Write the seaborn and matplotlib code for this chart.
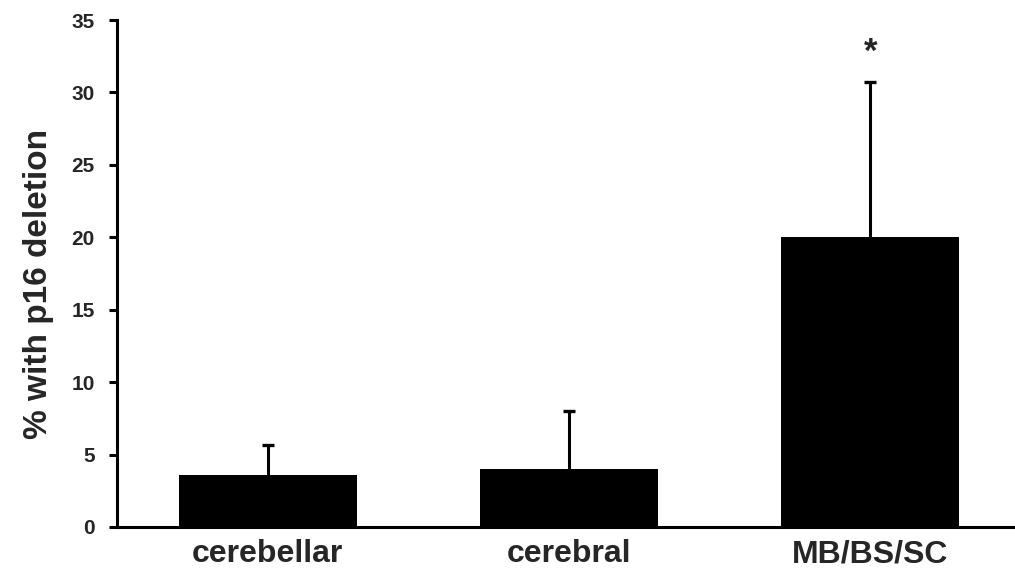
import numpy as np
import pandas as pd
import matplotlib
matplotlib.use('Agg')
import matplotlib.pyplot as plt
import seaborn as sns

sns.set_theme(style="ticks")
plt.rcParams['font.family'] = ['Liberation Sans', 'DejaVu Sans']

# data
regions = ['cerebellar', 'cerebral', 'MB/BS/SC']
pct_deleted = [3.6, 4.0, 20.0]
err_upper = [2.05, 4.0, 10.7]
signif = ['', '', '*']

df = pd.DataFrame({'region': regions, 'pct': pct_deleted})

fig = plt.figure(figsize=(10.15, 5.72), dpi=100)
ax = fig.add_axes([117 / 1015, 1 - 527 / 572, (1015 - 117) / 1015, (527 - 20) / 572])

sns.barplot(data=df, x='region', y='pct', order=regions, color='black',
            saturation=1, width=0.59, errorbar=None, ax=ax)
for p in ax.patches:
    p.set_edgecolor('none')

x_pos = np.arange(len(regions))
eb = ax.errorbar(x_pos, pct_deleted, yerr=[np.zeros(len(regions)), err_upper],
                 fmt='none', ecolor='black', elinewidth=2.2, capsize=4, capthick=2.4)
# one-sided bars: hide the cap sitting on the bar top
eb[1][0].set_visible(False)

for x, v, e, s in zip(x_pos, pct_deleted, err_upper, signif):
    if s:
        ax.text(x, v + e + 2.1, s, ha='center', va='center',
                fontsize=25, fontweight='bold')

ax.set_ylim(0, 35)
ax.set_xlim(-0.5, 2.48)
ax.set_yticks(np.arange(0, 36, 5))
ax.set_ylabel('% with p16 deletion', fontsize=24, fontweight='bold')
ax.yaxis.set_label_coords(-0.07, 0.48)
ax.set_xlabel('')

ax.tick_params(axis='y', direction='out', length=6, width=2.2, pad=10,
               labelsize=15, color='black')
ax.tick_params(axis='x', length=0, pad=9, labelsize=23)
for lab in ax.get_yticklabels() + ax.get_xticklabels():
    lab.set_fontweight('bold')

sns.despine(ax=ax)
for side in ['left', 'bottom']:
    ax.spines[side].set_linewidth(2.2)
    ax.spines[side].set_color('black')

plt.savefig('out.png', dpi=100)
plt.close()
